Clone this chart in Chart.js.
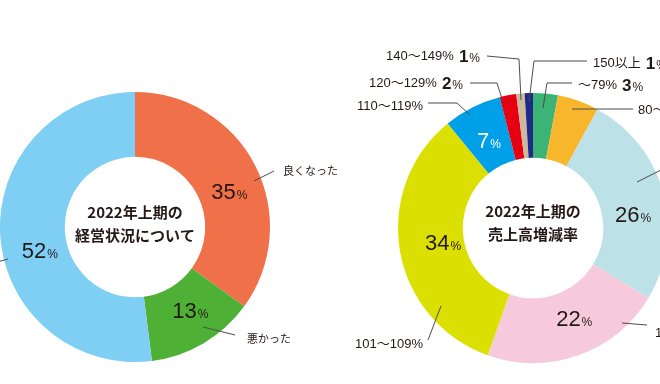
<!DOCTYPE html>
<html>
<head>
<meta charset="utf-8">
<script src="https://cdn.jsdelivr.net/npm/chart.js@4.4.1/dist/chart.umd.min.js"></script>
<style>
  html, body { margin: 0; padding: 0; background: #fff; }
  #wrap { position: relative; width: 660px; height: 384px; overflow: hidden; }
  #wrap canvas { position: absolute; left: 0; top: 0; }
</style>
</head>
<body>
<div id="wrap">
  <canvas id="statusChart" width="660" height="384"></canvas>
  <canvas id="salesChart" width="660" height="384"></canvas>
</div>
<script>
// 2022年上期の経営状況について
const statusLabels = ['良くなった', '悪かった', '変わらない'];
const statusValues = [35, 13, 52];
const statusColors = ['#ef7049', '#4eb135', '#7fcef4'];

// 2022年上期の売上高増減率 (80～89% の値は画面外なので推定)
const salesLabels = ['～79%', '80～89%', '90～99%', '100%', '101～109%', '110～119%', '120～129%', '140～149%', '150以上'];
const salesValues = [3, 5, 26, 22, 34, 7, 2, 1, 1];
const salesColors = ['#3bb476', '#f8b62d', '#bce2e8', '#f6c9dd', '#dce002', '#00a0e9', '#e60012', '#cdb99b', '#1d2a88'];

const INK = '#231815';
const FONT = '"Liberation Sans", "Noto Sans CJK JP", sans-serif';

function drawPct(ctx, value, x, base, numSize, pctSize, align, color, bold) {
    ctx.textAlign = 'left';
    ctx.textBaseline = 'alphabetic';
    ctx.fillStyle = color;
    ctx.font = (bold ? 'bold ' : '') + numSize + 'px ' + FONT;
    const wNum = ctx.measureText(String(value)).width;
    ctx.font = pctSize + 'px ' + FONT;
    const wPct = ctx.measureText('%').width;
    const w = wNum + 1 + wPct;
    let sx = align === 'center' ? x - w / 2 : x;
    ctx.font = (bold ? 'bold ' : '') + numSize + 'px ' + FONT;
    ctx.fillText(String(value), sx, base);
    ctx.font = pctSize + 'px ' + FONT;
    ctx.fillText('%', sx + wNum + 1, base);
    return w;
}

// labels, leader lines and the centre title
const donutText = {
    id: 'donutText',
    afterDatasetsDraw(chart, args, opts) {
        const ctx = chart.ctx;
        const meta = chart.getDatasetMeta(0);
        const values = chart.data.datasets[0].data;
        const names = chart.data.labels;
        const cx = meta.data[0].x, cy = meta.data[0].y;
        ctx.save();

        ctx.fillStyle = INK;
        ctx.textAlign = 'center';
        ctx.textBaseline = 'middle';
        ctx.font = 'bold 15px "Noto Sans CJK JP", sans-serif';
        opts.title.forEach((t, k) => ctx.fillText(t, cx, cy + opts.titleY[k]));

        opts.inner.forEach(o => {
            const arc = meta.data[o.i];
            const a = (arc.startAngle + arc.endAngle) / 2 + o.da * Math.PI / 180;
            const x = cx + Math.cos(a) * o.r;
            const y = cy + Math.sin(a) * o.r;
            drawPct(ctx, values[o.i], x, y + 8, 22, 12, 'center', o.color || INK, false);
        });

        ctx.strokeStyle = '#4d4d4d';
        ctx.lineWidth = 1;
        opts.outer.forEach(o => {
            ctx.beginPath();
            o.pts.forEach(([dx, dy], k) => {
                if (k) ctx.lineTo(cx + dx, cy + dy);
                else ctx.moveTo(cx + dx, cy + dy);
            });
            ctx.stroke();

            const name = names[o.i];
            ctx.font = opts.nameSize + 'px ' + FONT;
            const wName = ctx.measureText(name).width;
            let wVal = 0;
            if (o.value) {
                ctx.font = 'bold 17px ' + FONT;
                wVal = ctx.measureText(String(values[o.i])).width + 1;
                ctx.font = '12px ' + FONT;
                wVal += ctx.measureText('%').width + 5;
            }
            const x0 = o.align === 'right' ? cx + o.t[0] - wName - wVal : cx + o.t[0];
            const base = cy + o.t[1] + opts.nameSize * 0.37;
            ctx.textAlign = 'left';
            ctx.textBaseline = 'alphabetic';
            ctx.fillStyle = INK;
            ctx.font = opts.nameSize + 'px ' + FONT;
            ctx.fillText(name, x0, base);
            if (o.value) drawPct(ctx, values[o.i], x0 + wName + 5, base + 2, 17, 12, 'left', INK, true);
        });
        ctx.restore();
    }
};

function makeDonut(id, labels, values, colors, padding, text) {
    return new Chart(document.getElementById(id), {
        type: 'doughnut',
        data: {
            labels: labels,
            datasets: [{
                data: values,
                backgroundColor: colors,
                borderWidth: 0,
                hoverOffset: 0,
                clip: false
            }]
        },
        options: {
            responsive: false,
            animation: false,
            radius: 135,
            cutout: '52%',
            layout: { padding: padding },
            events: [],
            plugins: {
                legend: { display: false },
                tooltip: { enabled: false },
                donutText: text
            }
        },
        plugins: [donutText]
    });
}

makeDonut('statusChart', statusLabels, statusValues, statusColors,
    { left: 0, right: 390, top: 92, bottom: 22 },
    {
        title: ['2022年上期の', '経営状況について'],
        titleY: [-15, 8],
        nameSize: 11,
        inner: [
            { i: 0, da: 6, r: 101 },
            { i: 1, da: -3, r: 100 },
            { i: 2, da: -10, r: 98 }
        ],
        outer: [
            { i: 0, pts: [[119, -46], [139, -56]], t: [148, -56], align: 'left' },
            { i: 1, pts: [[68, 100], [100, 108]], t: [112, 112], align: 'left' },
            { i: 2, pts: [[-127, 32], [-152, 39]], t: [-156, 39], align: 'right' }
        ]
    });

makeDonut('salesChart', salesLabels, salesValues, salesColors,
    { left: 406, right: 0, top: 101, bottom: 29 },
    {
        title: ['2022年上期の', '売上高増減率'],
        titleY: [-17, 6],
        nameSize: 13,
        inner: [
            { i: 2, da: 7, r: 101 },
            { i: 3, da: -5, r: 99 },
            { i: 4, da: 1, r: 91 },
            { i: 5, da: 0, r: 98, color: '#ffffff' }
        ],
        outer: [
            { i: 0, pts: [[10, -120], [14, -145], [39, -145]], t: [45, -144], align: 'left', value: true },
            { i: 1, pts: [[39, -119], [100, -119]], t: [105, -119], align: 'left', value: true },
            { i: 2, pts: [[104, -46], [140, -64]], t: [146, -64], align: 'left' },
            { i: 3, pts: [[89, 95], [114, 97]], t: [122, 104], align: 'left' },
            { i: 4, pts: [[-92, 78], [-105, 112]], t: [-110, 115], align: 'right' },
            { i: 5, pts: [[-63, -113], [-76, -125], [-105, -125]], t: [-110, -123], align: 'right' },
            { i: 6, pts: [[-30, -126], [-36, -145], [-63, -145]], t: [-70, -146], align: 'right', value: true },
            { i: 7, pts: [[-12, -128], [-14, -169], [-46, -172]], t: [-53, -173], align: 'right', value: true },
            { i: 8, pts: [[-4, -126], [1, -167], [54, -167]], t: [60, -166], align: 'left', value: true }
        ]
    });
</script>
</body>
</html>
